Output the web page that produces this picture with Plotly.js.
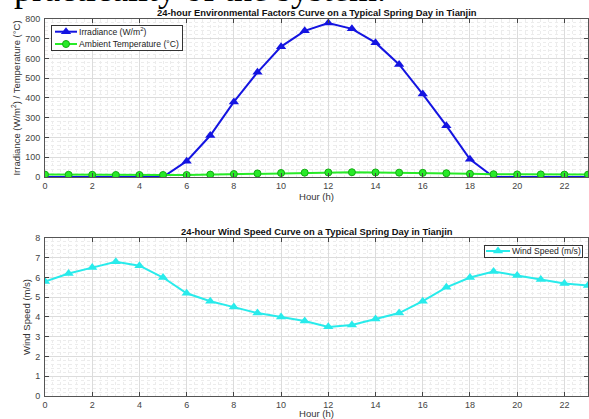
<!DOCTYPE html>
<html>
<head>
<meta charset="utf-8">
<script src="https://cdn.plot.ly/plotly-3.0.1.min.js"></script>
<style>html,body{margin:0;padding:0;background:#fff;}#chart{width:589px;height:419px;}</style>
</head>
<body>
<div id="chart"></div>
<script>
const hours = [0,1,2,3,4,5,6,7,8,9,10,11,12,13,14,15,16,17,18,19,20,21,22,23];
const irradiance = [0,0,0,0,0,0,80,210,380,530,660,740,780,750,680,570,420,260,90,0,0,0,0,0];
const temperature = [12,11,11,10,10,10,10,12,15,18,20,22,23,24,23,22,21,19,16,14,13,13,12,12];
const windSpeed = [5.8,6.2,6.5,6.8,6.6,6.0,5.2,4.8,4.5,4.2,4.0,3.8,3.5,3.6,3.9,4.2,4.8,5.5,6.0,6.3,6.1,5.9,5.7,5.6];
const xTicks = [0,2,4,6,8,10,12,14,16,18,20,22];

const blue = 'rgb(20,20,225)';
const green = 'rgb(40,235,40)';
const cyan = 'rgb(40,235,235)';
const tickFont = {family: 'Liberation Sans, Arial, sans-serif', size: 9, color: '#444'};
const titleFont = {family: 'Liberation Sans, Arial, sans-serif', size: 9.5, color: '#333'};

const traces = [
  {x: hours, y: irradiance, name: 'Irradiance (W/m<sup>2</sup>)', mode: 'lines+markers',
   line: {color: blue, width: 2}, marker: {symbol: 'triangle-up', size: 9, color: blue},
   xaxis: 'x', yaxis: 'y', legend: 'legend'},
  {x: hours, y: temperature, name: 'Ambient Temperature (°C)', mode: 'lines+markers',
   line: {color: green, width: 2}, marker: {symbol: 'circle', size: 7, color: green, line: {color: 'rgb(20,170,20)', width: 1}},
   xaxis: 'x', yaxis: 'y', legend: 'legend'},
  {x: hours, y: windSpeed, name: 'Wind Speed (m/s)', mode: 'lines+markers',
   line: {color: cyan, width: 2}, marker: {symbol: 'triangle-up', size: 9, color: cyan},
   xaxis: 'x2', yaxis: 'y2', legend: 'legend2', showlegend: true}
];

function xAxis(anchor, standoff) {
  return {
    domain: [0, 1], range: [0, 23], anchor: anchor,
    tickvals: xTicks, ticks: 'inside', ticklen: 4, tickcolor: '#444',
    showline: true, linecolor: '#555', linewidth: 1, mirror: 'ticks',
    showgrid: true, gridcolor: '#dcdcdc', gridwidth: 1,
    minor: {dtick: 1/3, showgrid: true, gridcolor: '#ececec', griddash: 'dot', ticks: ''},
    tickfont: tickFont, zeroline: false, fixedrange: true,
    title: {text: 'Hour (h)', font: titleFont, standoff: standoff}
  };
}
function yAxis(domain, range, dtick, minorDtick, anchor, title) {
  return {
    domain: domain, range: range, anchor: anchor, dtick: dtick,
    ticks: 'inside', ticklen: 4, tickcolor: '#444', ticklabelstandoff: 2,
    showline: true, linecolor: '#555', linewidth: 1, mirror: 'ticks',
    showgrid: true, gridcolor: '#dcdcdc',
    minor: {dtick: minorDtick, showgrid: true, gridcolor: '#ececec', griddash: 'dot', ticks: ''},
    tickfont: tickFont, zeroline: false,
    title: {text: title, font: titleFont, standoff: 2}
  };
}

const layout = {
  width: 589, height: 419,
  margin: {l: 45, r: 1, t: 0, b: 0},
  paper_bgcolor: '#fff', plot_bgcolor: '#fff',
  showlegend: true,
  font: {family: 'Liberation Sans, Arial, sans-serif', size: 9, color: '#333'},
  xaxis: xAxis('y', 2),
  yaxis: yAxis([0.5776, 0.9547], [0, 800], 100, 20, 'x', 'Irradiance (W/m<sup>2</sup>) / Temperature (°C)'),
  xaxis2: xAxis('y2', 7),
  yaxis2: yAxis([0.0549, 0.432], [0, 8], 1, 0.2, 'x2', 'Wind Speed (m/s)'),
  legend: {
    x: 0.011, y: 0.94, xanchor: 'left', yanchor: 'top',
    bgcolor: '#fff', bordercolor: '#333', borderwidth: 1,
    font: {size: 8.6, color: '#222'}, itemwidth: 30
  },
  legend2: {
    x: 0.989, y: 0.415, xanchor: 'right', yanchor: 'top',
    bgcolor: '#fff', bordercolor: '#333', borderwidth: 1,
    font: {size: 8.6, color: '#222'}, itemwidth: 30
  },
  annotations: [
    {text: '<b>24-hour Environmental Factors Curve on a Typical Spring Day in Tianjin</b>',
     xref: 'paper', yref: 'paper', x: 0.5, y: (419 - 13) / 419, xanchor: 'center', yanchor: 'middle',
     showarrow: false, font: {size: 9.4, color: '#111'}},
    {text: '<b>24-hour Wind Speed Curve on a Typical Spring Day in Tianjin</b>',
     xref: 'paper', yref: 'paper', x: 0.5, y: (419 - 232) / 419, xanchor: 'center', yanchor: 'middle',
     showarrow: false, font: {size: 9.4, color: '#111'}},
    {text: 'practicality of the system.',
     xref: 'paper', yref: 'paper', x: (12 - 45) / 543, y: (419 - 11.5) / 419, xanchor: 'left', yanchor: 'bottom',
     showarrow: false, font: {family: 'Liberation Serif, Times New Roman, serif', size: 36, color: '#000'}}
  ]
};

const specTop  = {bx: 51,  by: 25,  bw: 131, bh: 25, rows: [6.7, 19], lineX: 4, lineLen: 22, textX: 28};
const specWind = {bx: 484, by: 245, bw: 98,  bh: 12, rows: [6],       lineX: 2, lineLen: 24, textX: 28};

function fixLegend(g, s) {
  g.setAttribute('transform', 'translate(' + s.bx + ',' + s.by + ')');
  g.removeAttribute('clip-path');
  g.querySelectorAll('[clip-path]').forEach(el => el.removeAttribute('clip-path'));
  const bg = g.querySelector('rect.bg');
  if (bg) { bg.setAttribute('x', 0.5); bg.setAttribute('y', 0.5); bg.setAttribute('width', s.bw); bg.setAttribute('height', s.bh); }
  const sb = g.querySelector('g.scrollbox');
  if (sb) sb.setAttribute('transform', 'translate(0,0)');
  g.querySelectorAll('g.groups').forEach(gr => gr.setAttribute('transform', 'translate(0,0)'));
  g.querySelectorAll('g.traces').forEach((it, i) => {
    it.setAttribute('transform', 'translate(0,' + s.rows[Math.min(i, s.rows.length - 1)] + ')');
    it.querySelectorAll('path.js-line').forEach(p => p.setAttribute('d', 'M' + s.lineX + ',0h' + s.lineLen));
    it.querySelectorAll('g.legendpoints path').forEach(p => p.setAttribute('transform', 'translate(' + (s.lineX + s.lineLen / 2) + ',0)'));
    it.querySelectorAll('text').forEach(t => {
      t.setAttribute('x', s.textX);
      t.querySelectorAll('tspan[x]').forEach(ts => ts.setAttribute('x', s.textX));
    });
    it.querySelectorAll('rect.legendtoggle').forEach(r => r.remove());
  });
}
function fixAll() {
  const root = document.getElementById('chart');
  root.querySelectorAll('rect.bg').forEach(bg => {
    const g = bg.parentNode;
    if (!g || !g.querySelector('g.traces')) return;
    const txt = g.textContent || '';
    if (txt.indexOf('Wind Speed') >= 0) fixLegend(g, specWind);
    else if (txt.indexOf('Irradiance') >= 0) fixLegend(g, specTop);
  });
}

Plotly.newPlot('chart', traces, layout, {displayModeBar: false, staticPlot: true}).then(() => {
  fixAll();
  setTimeout(fixAll, 20);
  setTimeout(fixAll, 200);
});
</script>
</body>
</html>
